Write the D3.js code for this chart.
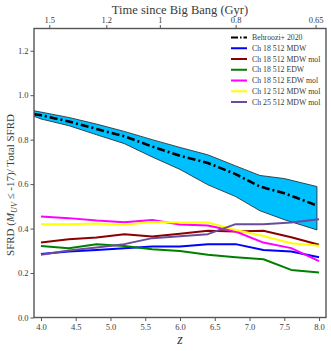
<!DOCTYPE html>
<html>
<head>
<meta charset="utf-8">
<script src="https://cdn.jsdelivr.net/npm/d3@7"></script>
<style>
body { margin: 0; background: #fff; }
text { font-family: "Liberation Serif", "DejaVu Serif", serif; fill: #3a3a3a; }
</style>
</head>
<body>
<div id="chart"></div>
<script>
// simulation redshifts
var zVals = [4.0, 4.4, 4.8, 5.2, 5.6, 6.0, 6.4, 6.8, 7.2, 7.6, 8.0];

var seriesNames = ["Ch 18 512 MDW", "Ch 18 512 MDW mol", "Ch 18 512 EDW",
    "Ch 18 512 EDW mol", "Ch 12 512 MDW mol", "Ch 25 512 MDW mol"];
var seriesColors = ["#0000ff", "#8b0000", "#008000", "#ff00ff", "#ffff00", "#6a4c9c"];

var mdw = [0.286, 0.297, 0.304, 0.312, 0.319, 0.319, 0.330, 0.330, 0.304, 0.297, 0.271];
var mdwMol = [0.337, 0.352, 0.360, 0.375, 0.364, 0.377, 0.390, 0.387, 0.390, 0.361, 0.327];
var edw = [0.322, 0.312, 0.330, 0.322, 0.307, 0.299, 0.282, 0.271, 0.262, 0.214, 0.202];
var edwMol = [0.454, 0.447, 0.436, 0.429, 0.439, 0.418, 0.414, 0.387, 0.337, 0.312, 0.254];
var ch12Mol = [0.420, 0.420, 0.423, 0.417, 0.430, 0.427, 0.427, 0.394, 0.367, 0.334, 0.323];
var ch25Mol = [0.282, 0.301, 0.315, 0.330, 0.357, 0.366, 0.375, 0.420, 0.420, 0.427, 0.442];
var seriesValues = [mdw, mdwMol, edw, edwMol, ch12Mol, ch25Mol];

// Behroozi+ 2020
var behZ = [3.9, 4.0, 4.4, 4.8, 5.2, 5.6, 6.0, 6.4, 6.8, 7.15, 7.5, 7.97];
var behMid = [0.915, 0.910, 0.882, 0.848, 0.815, 0.769, 0.727, 0.695, 0.645, 0.589, 0.559, 0.504];
var behHi = [0.930, 0.924, 0.900, 0.870, 0.837, 0.800, 0.765, 0.732, 0.682, 0.639, 0.625, 0.589];
var behLo = [0.905, 0.893, 0.863, 0.822, 0.782, 0.722, 0.666, 0.597, 0.544, 0.480, 0.440, 0.394];

var xTicks = [4.0, 4.5, 5.0, 5.5, 6.0, 6.5, 7.0, 7.5, 8.0];
var yTicks = [0.0, 0.2, 0.4, 0.6, 0.8, 1.0, 1.2];
var topTickLabels = ["1.5", "1.2", "1", "0.8", "0.65"];
var topTickZ = [4.12, 4.94, 5.71, 6.80, 7.95];

var width = 331, height = 351;
var margin = {top: 28.5, right: 5, bottom: 33.5, left: 34};

var svg = d3.select("#chart").append("svg")
    .attr("width", width)
    .attr("height", height);

var x = d3.scaleLinear().domain([3.9, 8.1]).range([margin.left, width - margin.right]);
var y = d3.scaleLinear().domain([0, 1.3]).range([height - margin.bottom, margin.top]);

svg.append("clipPath").attr("id", "plotclip").append("rect")
    .attr("x", margin.left).attr("y", margin.top)
    .attr("width", width - margin.right - margin.left)
    .attr("height", height - margin.bottom - margin.top);

var plot = svg.append("g").attr("clip-path", "url(#plotclip)");

// shaded band
var area = d3.area()
    .x(function(d, i) { return x(behZ[i]); })
    .y0(function(d, i) { return y(behLo[i]); })
    .y1(function(d, i) { return y(behHi[i]); });
plot.append("path")
    .datum(behZ)
    .attr("d", area)
    .attr("fill", "#00bfff")
    .attr("stroke", "#222")
    .attr("stroke-width", 0.8);

var line = d3.line()
    .x(function(d) { return x(d[0]); })
    .y(function(d) { return y(d[1]); });

plot.append("path")
    .datum(d3.zip(behZ, behMid))
    .attr("d", line)
    .attr("fill", "none")
    .attr("stroke", "#000")
    .attr("stroke-width", 2.6)
    .attr("stroke-dasharray", "8,3,2,3");

seriesValues.forEach(function(vals, k) {
    plot.append("path")
        .datum(d3.zip(zVals, vals))
        .attr("d", line)
        .attr("fill", "none")
        .attr("stroke", seriesColors[k])
        .attr("stroke-width", 2)
        .attr("stroke-linejoin", "round");
});

// axes
var axisColor = "#555";
var xAxis = svg.append("g")
    .attr("transform", "translate(0," + (height - margin.bottom) + ")")
    .call(d3.axisBottom(x).tickValues(xTicks).tickFormat(d3.format(".1f")).tickSize(3.5).tickPadding(3));
var yAxis = svg.append("g")
    .attr("transform", "translate(" + margin.left + ",0)")
    .call(d3.axisLeft(y).tickValues(yTicks).tickFormat(d3.format(".1f")).tickSize(3.5).tickPadding(2));
var topAxis = svg.append("g")
    .attr("transform", "translate(0," + margin.top + ")")
    .call(d3.axisTop(x).tickValues(topTickZ).tickFormat(function(d, i) { return topTickLabels[i]; }).tickSize(3.5).tickPadding(2));

[xAxis, yAxis, topAxis].forEach(function(a) {
    a.select(".domain").remove();
    a.selectAll("line").attr("stroke", axisColor).attr("stroke-width", 1);
    a.selectAll("text").style("font-family", "Liberation Serif, serif").style("font-size", "8.5px").attr("fill", "#3a3a3a");
});

// spines
svg.append("rect")
    .attr("x", margin.left).attr("y", margin.top)
    .attr("width", width - margin.right - margin.left)
    .attr("height", height - margin.bottom - margin.top)
    .attr("fill", "none")
    .attr("stroke", axisColor)
    .attr("stroke-width", 1.4);

// labels
svg.append("text")
    .attr("x", 180).attr("y", 13.5)
    .attr("text-anchor", "middle")
    .style("font-size", "12.5px")
    .text("Time since Big Bang (Gyr)");

svg.append("text")
    .attr("x", 180).attr("y", 344)
    .attr("text-anchor", "middle")
    .style("font-size", "14px")
    .style("font-style", "italic")
    .text("z");

var yl = svg.append("text")
    .attr("transform", "translate(14," + 185 + ") rotate(-90)")
    .attr("text-anchor", "middle")
    .style("font-size", "11px");
yl.append("tspan").text("SFRD (");
yl.append("tspan").style("font-style", "italic").text("M");
yl.append("tspan").style("font-style", "italic").attr("dy", 2.5).style("font-size", "8px").text("UV");
yl.append("tspan").attr("dy", -2.5).text(" \u2264 -17)/ Total SFRD");

// legend
var legendLabels = ["Behroozi+ 2020"].concat(seriesNames);
var legend = svg.append("g");
legendLabels.forEach(function(name, i) {
    var ly = 37.5 + i * 10.75;
    var ln = legend.append("line")
        .attr("x1", 231).attr("x2", 247)
        .attr("y1", ly).attr("y2", ly)
        .attr("stroke-width", i === 0 ? 1.8 : 2)
        .attr("stroke", i === 0 ? "#000" : seriesColors[i - 1]);
    if (i === 0) ln.attr("stroke-dasharray", "7,2,1.5,2");
    legend.append("text")
        .attr("x", 252).attr("y", ly + 2.7)
        .style("font-size", "7.8px")
        .attr("fill", "#222")
        .text(name);
});
</script>
</body>
</html>
